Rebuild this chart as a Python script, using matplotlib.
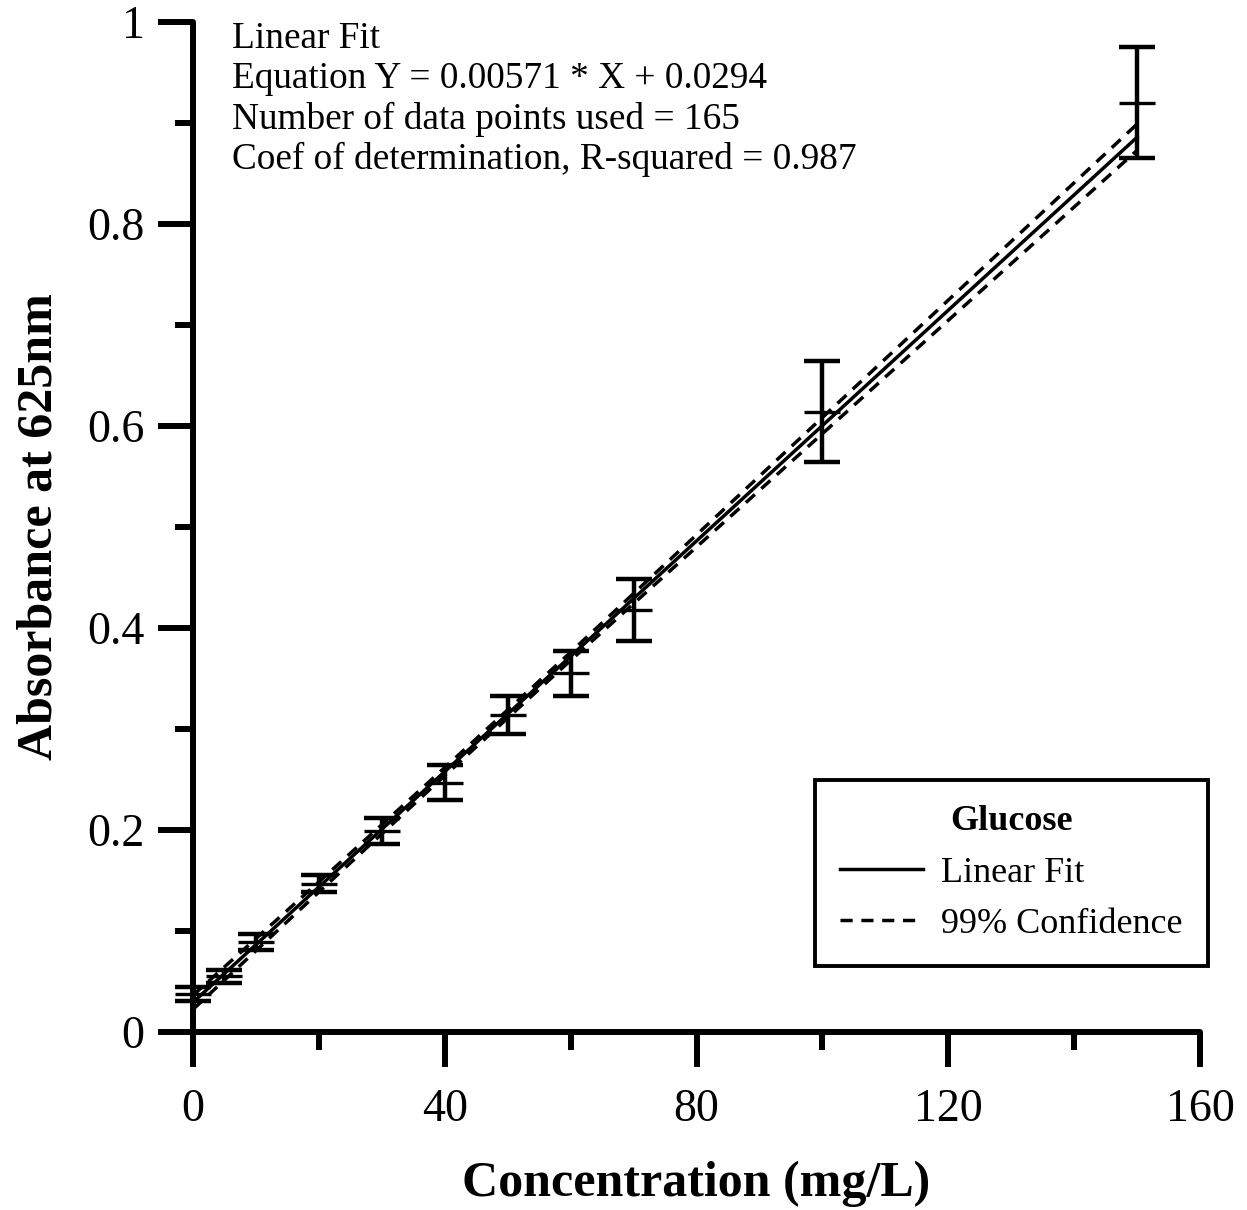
import numpy as np
import matplotlib
matplotlib.use("Agg")
import matplotlib.pyplot as plt
from matplotlib.lines import Line2D
from matplotlib.ticker import MultipleLocator

plt.rcParams['font.family'] = ['Liberation Serif', 'DejaVu Serif']

# measured glucose standards (mean absorbance and error)
conc = [0, 5, 10, 20, 30, 40, 50, 60, 70, 100, 150]
absorb = [0.038, 0.055, 0.089, 0.147, 0.199, 0.247, 0.314, 0.355, 0.418, 0.614, 0.920]
err = [0.007, 0.006, 0.008, 0.008, 0.013, 0.017, 0.019, 0.022, 0.031, 0.050, 0.055]

# fit reported on the chart
slope = 0.00571
intercept = 0.0294
fit_x = [0, 150]

# 99% confidence band
band_x = [0, 20, 40, 60, 80, 100, 120, 150]
band_half = [0.007, 0.005, 0.004, 0.004, 0.006, 0.008, 0.010, 0.013]

W, H, DPI = 1247, 1210, 100
fig = plt.figure(figsize=(W / DPI, H / DPI), dpi=DPI)
ax = fig.add_axes([193 / W, 1 - 1032 / H, (1200 - 193) / W, (1032 - 22) / H])

fx = np.array(fit_x, dtype=float)
ax.plot(fx, slope * fx + intercept, color='black', lw=2.5, zorder=3)

bx = np.array(band_x, dtype=float)
bfit = slope * bx + intercept
bh = np.array(band_half)
for sign in (1, -1):
    ax.plot(bx, bfit + sign * bh, color='black', lw=2.5, dashes=(3.5, 2.5), zorder=3)

eb = ax.errorbar(conc, absorb, yerr=err, fmt='none', ecolor='black', elinewidth=3.2,
                 capsize=13, capthick=3.2, zorder=4)
for art in eb.lines[1] + eb.lines[2]:
    art.set_clip_on(False)
ax.plot(conc, absorb, ls='none', marker='_', ms=26, mew=2.4, color='black',
        zorder=4, clip_on=False)

ax.set_xlim(0, 160)
ax.set_ylim(0, 1)
ax.xaxis.set_major_locator(MultipleLocator(40))
ax.xaxis.set_minor_locator(MultipleLocator(20))
ax.yaxis.set_minor_locator(MultipleLocator(0.1))
ax.set_yticks([0, 0.2, 0.4, 0.6, 0.8, 1.0])
ax.set_yticklabels(['0', '0.2', '0.4', '0.6', '0.8', '1'])

for s in ('top', 'right'):
    ax.spines[s].set_visible(False)
for s in ('left', 'bottom'):
    ax.spines[s].set_linewidth(4.3)
    ax.spines[s].set_capstyle('round')

ax.tick_params(which='major', direction='out', length=25, width=4.3, labelsize=33)
ax.tick_params(which='minor', direction='out', length=13, width=4.3)
ax.tick_params(axis='y', which='major', pad=10)
ax.tick_params(axis='x', which='major', pad=16)

ax.set_xlabel('Concentration (mg/L)', fontsize=36, fontweight='bold', labelpad=21)
ax.set_ylabel('Absorbance at 625nm', fontsize=36, fontweight='bold', labelpad=18)

fig.text(232 / W, 1 - 22 / H,
         'Linear Fit\nEquation Y = 0.00571 * X + 0.0294\n'
         'Number of data points used = 165\nCoef of determination, R-squared = 0.987',
         fontsize=26.8, va='top', ha='left', linespacing=1.2)

handles = [Line2D([], [], color='black', lw=2.5),
           Line2D([], [], color='black', lw=2.5, dashes=(3.5, 2.5))]
leg = ax.legend(handles, ['Linear Fit', '99% Confidence'], title='Glucose',
                loc='upper right', bbox_to_anchor=(1208 / W, 1 - 780 / H),
                bbox_transform=fig.transFigure, borderaxespad=0,
                fontsize=26, title_fontproperties={'size': 26, 'weight': 'bold'},
                fancybox=False, edgecolor='black', framealpha=1, handlelength=2.3,
                borderpad=0.7, labelspacing=0.5, handletextpad=0.5)
leg.get_frame().set_linewidth(2.8)

fig.savefig('out.png', dpi=DPI)
